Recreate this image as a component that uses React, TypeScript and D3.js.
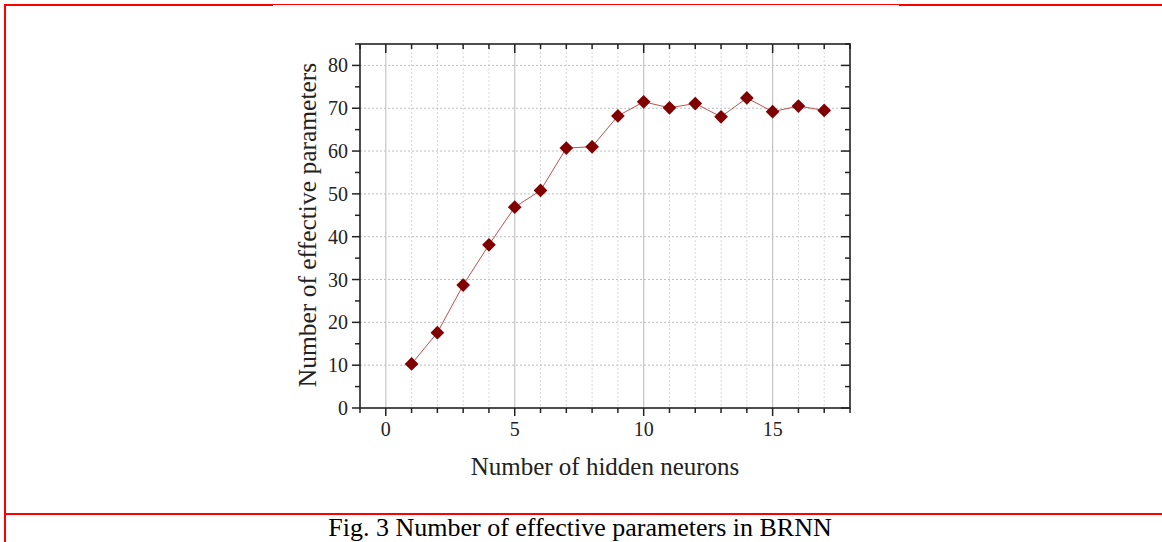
import React from "react";
import * as d3 from "d3";

const neurons = [1, 2, 3, 4, 5, 6, 7, 8, 9, 10, 11, 12, 13, 14, 15, 16, 17];
const effectiveParams = [10.3, 17.6, 28.7, 38.1, 46.9, 50.8, 60.7, 61.0, 68.2, 71.5, 70.1, 71.1, 68.0, 72.4, 69.2, 70.5, 69.5];
const xMajorTicks = [0, 5, 10, 15];
const xMinorTicks = [-1, 1, 2, 3, 4, 6, 7, 8, 9, 11, 12, 13, 14, 16, 17, 18];
const yMajorTicks = [0, 10, 20, 30, 40, 50, 60, 70, 80];
const yMinorTicks = [5, 15, 25, 35, 45, 55, 65, 75, 85];

const W = 1162;
const H = 542;
const L = 360, R = 850, T = 44, B = 408;
const font = "'Liberation Serif', 'Times New Roman', serif";

export default function App() {
  const x = d3.scaleLinear().domain([-1, 18]).range([L, R]);
  const y = d3.scaleLinear().domain([0, 85]).range([B, T]);
  const line = d3.line<number>().x((_, i) => x(neurons[i])).y((d) => y(d));
  const diamond = d3.symbol().type(d3.symbolDiamond2).size(120)();
  const red = "#ff0000";

  return (
    <svg width={W} height={H} style={{ position: "absolute", left: 0, top: 0, background: "#fff" }}>
      {/* red frame */}
      <rect x={4} y={4} width={269} height={2} fill={red} />
      <rect x={273} y={4} width={626} height={1} fill={red} />
      <rect x={899} y={4} width={263} height={2} fill={red} />
      <rect x={4} y={4} width={2} height={538} fill={red} />
      <rect x={4} y={513} width={1158} height={2} fill={red} />

      {/* grid */}
      {xMinorTicks.filter((t) => t > -1 && t < 18).map((t) => (
        <line key={"gx" + t} x1={x(t)} x2={x(t)} y1={T} y2={B} stroke="#d8d8d8" strokeWidth={1} strokeDasharray="2,2" />
      ))}
      {yMajorTicks.filter((t) => t > 0).map((t) => (
        <line key={"gy" + t} x1={L} x2={R} y1={y(t)} y2={y(t)} stroke="#bdbdbd" strokeWidth={1} strokeDasharray="2,2" />
      ))}
      {xMajorTicks.map((t) => (
        <line key={"gX" + t} x1={x(t)} x2={x(t)} y1={T} y2={B} stroke="#c4c4c4" strokeWidth={1.2} />
      ))}

      {/* data */}
      <path d={line(effectiveParams) || ""} fill="none" stroke="#c05050" strokeWidth={1} />
      {effectiveParams.map((v, i) => (
        <path key={"m" + i} d={diamond || ""} transform={`translate(${x(neurons[i])},${y(v)})`} fill="#800000" />
      ))}

      {/* frame */}
      <rect x={L} y={T} width={R - L} height={B - T} fill="none" stroke="#222" strokeWidth={1.6} />

      {/* bottom ticks (outward) */}
      {xMajorTicks.map((t) => (
        <line key={"bx" + t} x1={x(t)} x2={x(t)} y1={B} y2={B + 8} stroke="#222" strokeWidth={1.5} />
      ))}
      {xMinorTicks.map((t) => (
        <line key={"bxm" + t} x1={x(t)} x2={x(t)} y1={B} y2={B + 5} stroke="#222" strokeWidth={1.5} />
      ))}
      {/* top ticks (inward) */}
      {xMajorTicks.map((t) => (
        <line key={"tx" + t} x1={x(t)} x2={x(t)} y1={T} y2={T + 9} stroke="#222" strokeWidth={1.5} />
      ))}
      {xMinorTicks.map((t) => (
        <line key={"txm" + t} x1={x(t)} x2={x(t)} y1={T} y2={T + 5} stroke="#222" strokeWidth={1.5} />
      ))}
      {/* left ticks (outward) */}
      {yMajorTicks.map((t) => (
        <line key={"ly" + t} x1={L - 8} x2={L} y1={y(t)} y2={y(t)} stroke="#222" strokeWidth={1.5} />
      ))}
      {yMinorTicks.map((t) => (
        <line key={"lym" + t} x1={L - 5} x2={L} y1={y(t)} y2={y(t)} stroke="#222" strokeWidth={1.5} />
      ))}
      {/* right ticks (inward) */}
      {yMajorTicks.map((t) => (
        <line key={"ry" + t} x1={R - 9} x2={R} y1={y(t)} y2={y(t)} stroke="#222" strokeWidth={1.5} />
      ))}
      {yMinorTicks.map((t) => (
        <line key={"rym" + t} x1={R - 5} x2={R} y1={y(t)} y2={y(t)} stroke="#222" strokeWidth={1.5} />
      ))}

      {/* tick labels */}
      {yMajorTicks.map((t) => (
        <text key={"yl" + t} x={L - 12} y={y(t)} dy="0.35em" textAnchor="end" fontFamily={font} fontSize={20} fill="#222">
          {t}
        </text>
      ))}
      {xMajorTicks.map((t) => (
        <text key={"xl" + t} x={x(t)} y={B + 28} textAnchor="middle" fontFamily={font} fontSize={20} fill="#222">
          {t}
        </text>
      ))}

      {/* axis titles */}
      <text x={605} y={475} textAnchor="middle" fontFamily={font} fontSize={25} fill="#222">
        Number of hidden neurons
      </text>
      <text transform="translate(316,225) rotate(-90)" textAnchor="middle" fontFamily={font} fontSize={25.5} fill="#222">
        Number of effective parameters
      </text>

      {/* caption */}
      <text x={580} y={536} textAnchor="middle" fontFamily={font} fontSize={26} fill="#000">
        Fig. 3 Number of effective parameters in BRNN
      </text>
    </svg>
  );
}
